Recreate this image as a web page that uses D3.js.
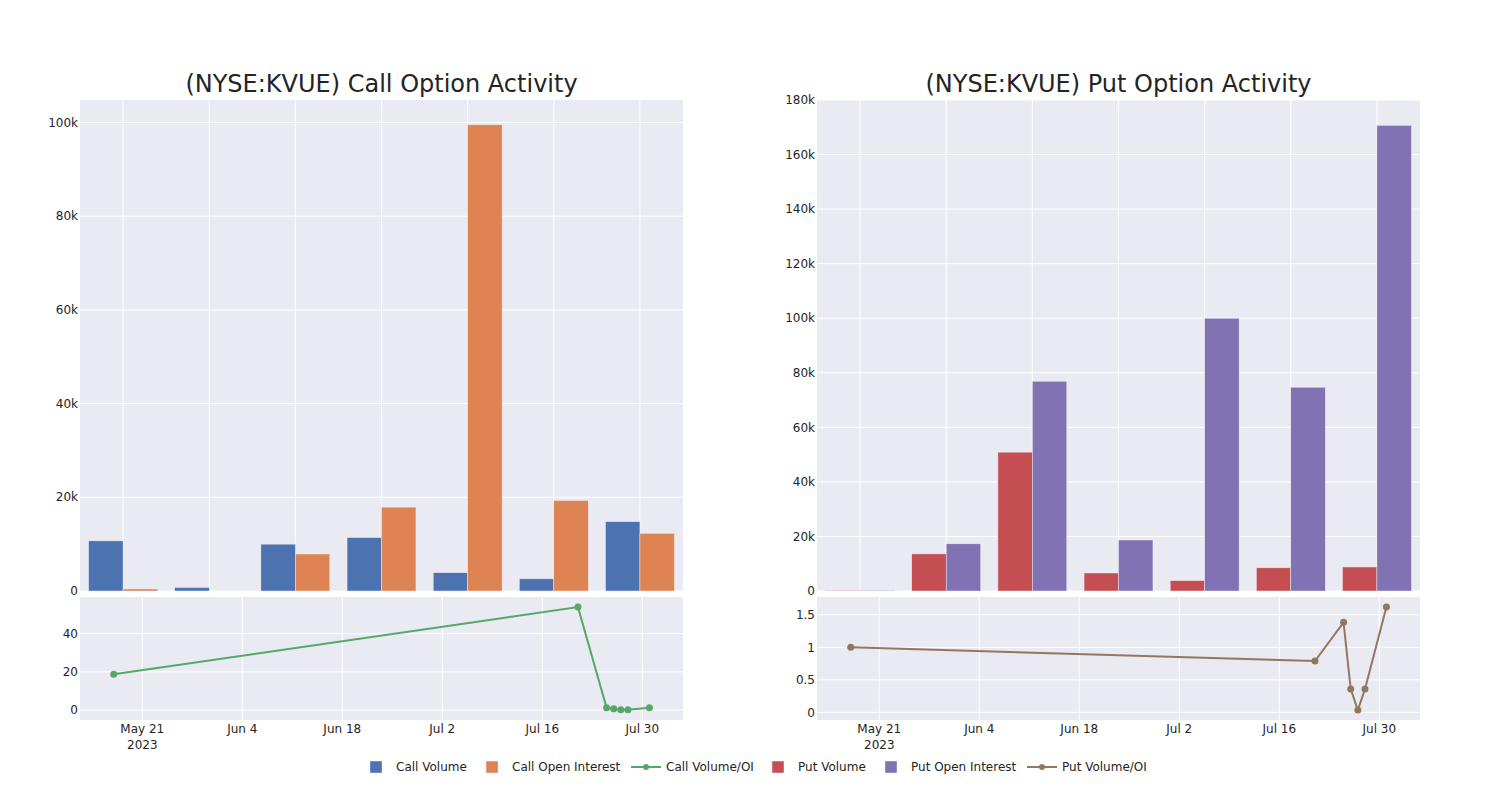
<!DOCTYPE html>
<html>
<head>
<meta charset="utf-8">
<script src="https://cdn.jsdelivr.net/npm/d3@7"></script>
<style>
  body { margin: 0; background: #fff; }
  svg { display: block; font-family: "DejaVu Sans", sans-serif; }
</style>
</head>
<body>
<svg id="chart" width="1500" height="800"></svg>
<script>
// ---- data ----
const categories = ["2023-05-17", "2023-07-21", "2023-07-25", "2023-07-26", "2023-07-27", "2023-07-28", "2023-07-31"];
const callVolume = [10700, 750, 10000, 11400, 3900, 2600, 14800];
const callOpenInterest = [430, 0, 7900, 17900, 99500, 19300, 12300];
const putVolume = [200, 13600, 50900, 6600, 3800, 8500, 8800];
const putOpenInterest = [200, 17300, 76900, 18700, 100000, 74700, 170700];
const ratioDates = ["2023-05-17", "2023-07-21", "2023-07-25", "2023-07-26", "2023-07-27", "2023-07-28", "2023-07-31"];
const callVolumeOI = [18.7, 53.9, 1.2, 0.7, 0.2, 0.2, 1.2];
const putVolumeOI = [1.0, 0.79, 1.385, 0.358, 0.035, 0.358, 1.62];
const dateTicks = ["2023-05-21", "2023-06-04", "2023-06-18", "2023-07-02", "2023-07-16", "2023-07-30"];
const callBarTicks = [0, 20000, 40000, 60000, 80000, 100000];
const putBarTicks = [0, 20000, 40000, 60000, 80000, 100000, 120000, 140000, 160000, 180000];
const callLineTicks = [0, 20, 40];
const putLineTicks = [0, 0.5, 1, 1.5];
const titles = ["(NYSE:KVUE) Call Option Activity", "(NYSE:KVUE) Put Option Activity"];
const legendItems = [
  { name: "Call Volume", type: "bar", color: "rgb(76,114,176)" },
  { name: "Call Open Interest", type: "bar", color: "rgb(221,132,82)" },
  { name: "Call Volume/OI", type: "line", color: "rgb(85,168,104)" },
  { name: "Put Volume", type: "bar", color: "rgb(196,78,82)" },
  { name: "Put Open Interest", type: "bar", color: "rgb(129,114,179)" },
  { name: "Put Volume/OI", type: "line", color: "rgb(147,120,96)" }
];

const parse = d3.timeParse("%Y-%m-%d");
const TEXT = "rgb(36,36,36)";
const BG = "rgb(234,234,242)";
const svg = d3.select("#chart");

const panels = [
  { x0: 80, x1: 683, title: titles[0], vol: callVolume, oi: callOpenInterest, ratio: callVolumeOI,
    barMax: 104800, barTicks: callBarTicks, lineDom: [-5.2, 59.2], lineTicks: callLineTicks,
    c1: legendItems[0].color, c2: legendItems[1].color, lc: legendItems[2].color, fmt: d3.format("~g") },
  { x0: 817, x1: 1420, title: titles[1], vol: putVolume, oi: putOpenInterest, ratio: putVolumeOI,
    barMax: 180000, barTicks: putBarTicks, lineDom: [-0.118, 1.774], lineTicks: putLineTicks,
    c1: legendItems[3].color, c2: legendItems[4].color, lc: legendItems[5].color, fmt: d3.format("~g") }
];

const barTop = 100, barBottom = 591, lineTop = 597, lineBottom = 720;
const dateDomain = [new Date(2023, 4, 12, 6, 45), new Date(2023, 7, 4, 16, 48)];

panels.forEach(p => {
  const g = svg.append("g");
  // ---- bar subplot ----
  const xb = d3.scaleBand().domain(categories).range([p.x0, p.x1]);
  const yb = d3.scaleLinear().domain([0, p.barMax]).range([barBottom, barTop]);
  g.append("rect").attr("x", p.x0).attr("y", barTop).attr("width", p.x1 - p.x0).attr("height", barBottom - barTop).attr("fill", BG);
  g.append("g").selectAll("line").data(p.barTicks).join("line")
    .attr("x1", p.x0).attr("x2", p.x1).attr("y1", d => yb(d)).attr("y2", d => yb(d))
    .attr("stroke", "#fff").attr("stroke-width", 1);
  g.append("g").selectAll("line").data(categories).join("line")
    .attr("x1", d => xb(d) + xb.bandwidth() / 2).attr("x2", d => xb(d) + xb.bandwidth() / 2)
    .attr("y1", barTop).attr("y2", barBottom).attr("stroke", "#fff").attr("stroke-width", 1);
  g.append("g").selectAll("text").data(p.barTicks).join("text")
    .attr("x", p.x0 - 2).attr("y", d => yb(d)).attr("dy", "0.35em").attr("text-anchor", "end")
    .attr("font-size", 12).attr("fill", TEXT).text(d => d === 0 ? "0" : d3.format("~s")(d));
  const bw = xb.bandwidth() * 0.8 / 2;
  const off = xb.bandwidth() * 0.1;
  const bars = g.append("g");
  bars.selectAll("rect.v").data(categories).join("rect").attr("class", "v")
    .attr("x", d => xb(d) + off).attr("width", bw)
    .attr("y", (d, i) => yb(p.vol[i])).attr("height", (d, i) => yb(0) - yb(p.vol[i]))
    .attr("fill", p.c1).attr("stroke", BG).attr("stroke-width", 0.5);
  bars.selectAll("rect.o").data(categories).join("rect").attr("class", "o")
    .attr("x", d => xb(d) + off + bw).attr("width", bw)
    .attr("y", (d, i) => yb(p.oi[i])).attr("height", (d, i) => yb(0) - yb(p.oi[i]))
    .attr("fill", p.c2).attr("stroke", BG).attr("stroke-width", 0.5);
  g.append("text").attr("x", (p.x0 + p.x1) / 2).attr("y", 84).attr("dy", "0.35em")
    .attr("text-anchor", "middle").attr("font-size", 24).attr("fill", TEXT).text(p.title);

  // ---- line subplot ----
  const xl = d3.scaleTime().domain(dateDomain).range([p.x0, p.x1]);
  const yl = d3.scaleLinear().domain(p.lineDom).range([lineBottom, lineTop]);
  g.append("rect").attr("x", p.x0).attr("y", lineTop).attr("width", p.x1 - p.x0).attr("height", lineBottom - lineTop).attr("fill", BG);
  const tdates = dateTicks.map(parse);
  g.append("g").selectAll("line").data(tdates).join("line")
    .attr("x1", d => xl(d)).attr("x2", d => xl(d)).attr("y1", lineTop).attr("y2", lineBottom)
    .attr("stroke", "#fff").attr("stroke-width", 1);
  g.append("g").selectAll("line").data(p.lineTicks).join("line")
    .attr("x1", p.x0).attr("x2", p.x1).attr("y1", d => yl(d)).attr("y2", d => yl(d))
    .attr("stroke", "#fff").attr("stroke-width", 1);
  g.append("g").selectAll("text").data(p.lineTicks).join("text")
    .attr("x", p.x0 - 2).attr("y", d => yl(d)).attr("dy", "0.35em").attr("text-anchor", "end")
    .attr("font-size", 12).attr("fill", TEXT).text(d => p.fmt(d));
  const fmtDate = d3.timeFormat("%b %-d");
  g.append("g").selectAll("text").data(tdates).join("text")
    .attr("x", d => xl(d)).attr("y", 729).attr("dy", "0.35em").attr("text-anchor", "middle")
    .attr("font-size", 12).attr("fill", TEXT).text(d => fmtDate(d));
  g.append("text").attr("x", xl(tdates[0])).attr("y", 745).attr("dy", "0.35em").attr("text-anchor", "middle")
    .attr("font-size", 12).attr("fill", TEXT).text(d3.timeFormat("%Y")(tdates[0]));
  const pts = ratioDates.map((d, i) => [parse(d), p.ratio[i]]);
  const line = d3.line().x(d => xl(d[0])).y(d => yl(d[1]));
  g.append("path").datum(pts).attr("d", line).attr("fill", "none").attr("stroke", p.lc).attr("stroke-width", 2);
  g.append("g").selectAll("circle").data(pts).join("circle")
    .attr("cx", d => xl(d[0])).attr("cy", d => yl(d[1])).attr("r", 3.5).attr("fill", p.lc);
});

// ---- legend ----
const legendX = [356, 472, 626, 758, 871, 1022];
const lg = svg.append("g");
legendItems.forEach((it, i) => {
  const gx = legendX[i], cy = 767;
  const item = lg.append("g");
  if (it.type === "bar") {
    item.append("rect").attr("x", gx + 14).attr("y", cy - 6).attr("width", 12).attr("height", 12)
      .attr("fill", it.color).attr("stroke", BG).attr("stroke-width", 0.5);
  } else {
    item.append("line").attr("x1", gx + 5).attr("x2", gx + 35).attr("y1", cy).attr("y2", cy)
      .attr("stroke", it.color).attr("stroke-width", 2);
    item.append("circle").attr("cx", gx + 20).attr("cy", cy).attr("r", 3).attr("fill", it.color);
  }
  item.append("text").attr("x", gx + 40).attr("y", cy).attr("dy", "0.35em")
    .attr("font-size", 12).attr("fill", TEXT).text(it.name);
});
</script>
</body>
</html>
